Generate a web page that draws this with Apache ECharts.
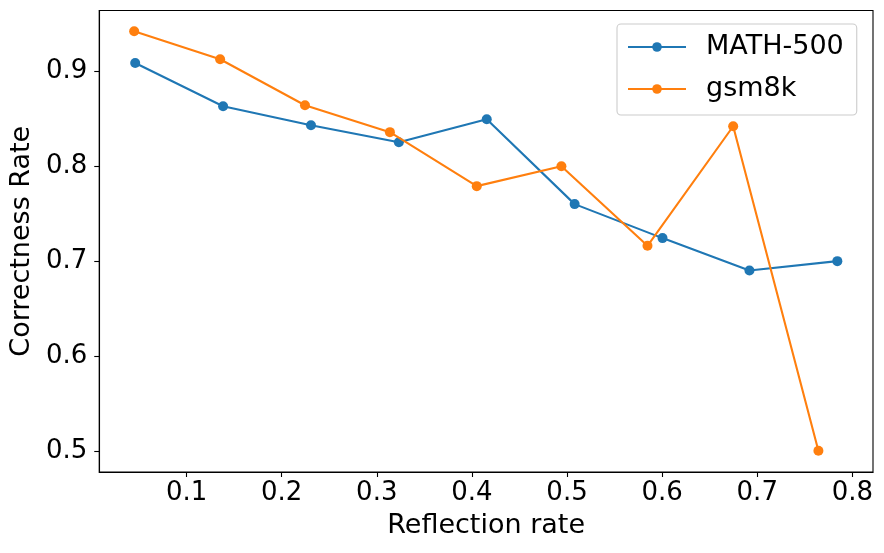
<!DOCTYPE html>
<html>
<head>
<meta charset="utf-8">
<script src="https://cdn.jsdelivr.net/npm/echarts@6/dist/echarts.min.js"></script>
<style>
html,body{margin:0;padding:0;background:#fff;}
#chart{width:884px;height:553px;}
</style>
</head>
<body>
<div id="chart"></div>
<script>
const seriesNames = ['MATH-500', 'gsm8k'];
const mathX = [0.0460, 0.1384, 0.2308, 0.3232, 0.4156, 0.5080, 0.6004, 0.6918, 0.7842];
const mathY = [0.9084, 0.8629, 0.8430, 0.8251, 0.8493, 0.7601, 0.7244, 0.6903, 0.7002];
const gsmX = [0.0449, 0.1353, 0.2245, 0.3138, 0.4051, 0.4941, 0.5846, 0.6747, 0.7643];
const gsmY = [0.9417, 0.9123, 0.8640, 0.8357, 0.7790, 0.7999, 0.7163, 0.8419, 0.5011];
const xTicks = [0.1, 0.2, 0.3, 0.4, 0.5, 0.6, 0.7, 0.8];
const yTicks = [0.5, 0.6, 0.7, 0.8, 0.9];
const xTitle = 'Reflection rate';
const yTitle = 'Correctness Rate';

const zip = (xs, ys) => xs.map((x, i) => [x, ys[i]]);
const font = 'DejaVu Sans';

const chart = echarts.init(document.getElementById('chart'), null, {renderer: 'canvas'});
chart.setOption({
  animation: false,
  backgroundColor: '#fff',
  grid: {left: 98, right: 11, top: 10.5, bottom: 81, show: true, borderColor: '#000', borderWidth: 1.1, backgroundColor: 'transparent'},
  xAxis: {
    type: 'value', min: 0.0082, max: 0.8217,
    name: xTitle, nameLocation: 'middle', nameGap: 40,
    nameTextStyle: {fontFamily: font, fontSize: 27, color: '#000'},
    axisLine: {show: true, onZero: false, lineStyle: {color: '#000', width: 1.1}},
    axisTick: {show: true, length: 5, lineStyle: {color: '#000', width: 1.1}, customValues: xTicks},
    axisLabel: {fontFamily: font, fontSize: 26, color: '#000', margin: 8, customValues: xTicks, formatter: v => v.toFixed(1)},
    splitLine: {show: false}
  },
  yAxis: {
    type: 'value', min: 0.4787, max: 0.9635,
    name: yTitle, nameLocation: 'middle', nameGap: 62,
    nameTextStyle: {fontFamily: font, fontSize: 27, color: '#000'},
    axisLine: {show: true, onZero: false, lineStyle: {color: '#000', width: 1.1}},
    axisTick: {show: true, length: 5, lineStyle: {color: '#000', width: 1.1}, customValues: yTicks},
    axisLabel: {fontFamily: font, fontSize: 26, color: '#000', margin: 12, customValues: yTicks, formatter: v => v.toFixed(1)},
    splitLine: {show: false}
  },
  legend: {
    show: true, orient: 'vertical', left: 617, top: 24,
    data: seriesNames,
    backgroundColor: 'rgba(255,255,255,0.8)', borderColor: '#cccccc', borderWidth: 1.1, borderRadius: 4,
    padding: [8, 13, 11, 10],
    itemWidth: 58, itemHeight: 12, itemGap: 12,
    textStyle: {fontFamily: font, fontSize: 27, color: '#000', lineHeight: 30, padding: [0, 0, 0, 15]}
  },
  series: [
    {
      name: seriesNames[0], type: 'line', data: zip(mathX, mathY),
      color: '#1f77b4', symbol: 'circle', symbolSize: 10, showAllSymbol: true,
      lineStyle: {width: 2.1, color: '#1f77b4'}, itemStyle: {color: '#1f77b4'}, z: 2
    },
    {
      name: seriesNames[1], type: 'line', data: zip(gsmX, gsmY),
      color: '#ff7f0e', symbol: 'circle', symbolSize: 10, showAllSymbol: true,
      lineStyle: {width: 2.1, color: '#ff7f0e'}, itemStyle: {color: '#ff7f0e'}, z: 3
    }
  ]
});
</script>
</body>
</html>
